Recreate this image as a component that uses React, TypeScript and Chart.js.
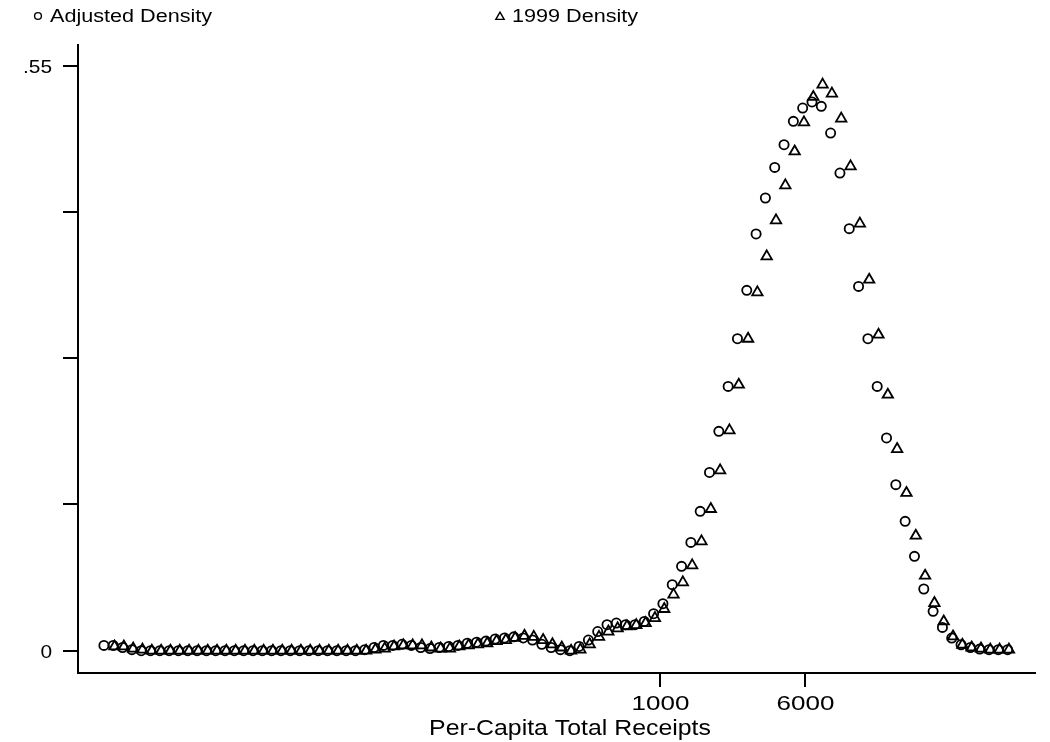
import React, { useEffect, useRef } from "react";
import { Chart, registerables } from "chart.js";

Chart.register(...registerables);

// log10 of per-capita receipts (deflated) where the adjusted density was evaluated
const adjustedLogX = [
  0.013, 0.063, 0.113, 0.163, 0.213, 0.263, 0.313, 0.363, 0.413, 0.463,
  0.513, 0.563, 0.613, 0.663, 0.713, 0.763, 0.813, 0.863, 0.913, 0.963,
  1.013, 1.063, 1.113, 1.163, 1.213, 1.263, 1.313, 1.363, 1.413, 1.463,
  1.513, 1.563, 1.613, 1.663, 1.713, 1.763, 1.813, 1.863, 1.913, 1.963,
  2.013, 2.063, 2.113, 2.163, 2.213, 2.263, 2.313, 2.363, 2.413, 2.463,
  2.513, 2.563, 2.613, 2.663, 2.713, 2.763, 2.813, 2.863, 2.913, 2.963,
  3.013, 3.063, 3.113, 3.163, 3.213, 3.263, 3.313, 3.363, 3.413, 3.463,
  3.513, 3.563, 3.613, 3.663, 3.713, 3.763, 3.813, 3.863, 3.913, 3.963,
  4.013, 4.063, 4.113, 4.163, 4.213, 4.263, 4.313, 4.363, 4.413, 4.463,
  4.513, 4.563, 4.613, 4.663, 4.713, 4.763, 4.813, 4.863,
];

const adjustedDensity = [
  0.005, 0.005, 0.003, 0.001, 0, 0, 0, 0, 0, 0,
  0, 0, 0, 0, 0, 0, 0, 0, 0, 0,
  0, 0, 0, 0, 0, 0, 0, 0, 0.001, 0.003,
  0.005, 0.005, 0.006, 0.005, 0.003, 0.002, 0.003, 0.004, 0.005, 0.007,
  0.008, 0.009, 0.011, 0.012, 0.013, 0.012, 0.01, 0.006, 0.003, 0.001,
  0.0, 0.004, 0.01, 0.018, 0.0245, 0.026, 0.0245, 0.0245, 0.0275, 0.0348,
  0.0442, 0.0621, 0.0793, 0.1018, 0.131, 0.1676, 0.2062, 0.2485, 0.2933, 0.3388,
  0.3918, 0.4256, 0.4544, 0.4757, 0.4977, 0.5102, 0.5159, 0.5118, 0.4867, 0.4491,
  0.3968, 0.3425, 0.2933, 0.2485, 0.2, 0.1561, 0.1216, 0.0887, 0.058, 0.037,
  0.0219, 0.0119, 0.0056, 0.003, 0.0015, 0.001, 0.001, 0.001,
];

// log10 of per-capita receipts (1999 dollars) where the 1999 density was evaluated
const logX1999 = [
  0.07, 0.12, 0.17, 0.22, 0.27, 0.32, 0.37, 0.42, 0.47, 0.52,
  0.57, 0.62, 0.67, 0.72, 0.77, 0.82, 0.87, 0.92, 0.97, 1.02,
  1.07, 1.12, 1.17, 1.22, 1.27, 1.32, 1.37, 1.42, 1.47, 1.52,
  1.57, 1.62, 1.67, 1.72, 1.77, 1.82, 1.87, 1.92, 1.97, 2.02,
  2.07, 2.12, 2.17, 2.22, 2.27, 2.32, 2.37, 2.42, 2.47, 2.52,
  2.57, 2.62, 2.67, 2.72, 2.77, 2.82, 2.87, 2.92, 2.97, 3.02,
  3.07, 3.12, 3.17, 3.22, 3.27, 3.32, 3.37, 3.42, 3.47, 3.52,
  3.57, 3.62, 3.67, 3.72, 3.77, 3.82, 3.87, 3.92, 3.97, 4.02,
  4.07, 4.12, 4.17, 4.22, 4.27, 4.32, 4.37, 4.42, 4.47, 4.52,
  4.57, 4.62, 4.67, 4.72, 4.77, 4.82, 4.87,
];

const density1999 = [
  0.004, 0.004, 0.002, 0.001, 0, 0, 0, 0, 0, 0,
  0, 0, 0, 0, 0, 0, 0, 0, 0, 0,
  0, 0, 0, 0, 0, 0, 0, 0, 0.001, 0.002,
  0.004, 0.005, 0.005, 0.005, 0.003, 0.002, 0.002, 0.004, 0.005, 0.006,
  0.007, 0.009, 0.01, 0.012, 0.014, 0.013, 0.01, 0.006, 0.003, 0.0,
  0.001, 0.006, 0.013, 0.018, 0.021, 0.023, 0.024, 0.026, 0.0307, 0.0392,
  0.0527, 0.0642, 0.0802, 0.1028, 0.1332, 0.1695, 0.2071, 0.2501, 0.2933, 0.3369,
  0.3707, 0.4046, 0.4375, 0.4694, 0.4967, 0.5206, 0.5322, 0.5237, 0.5002, 0.4553,
  0.4015, 0.3488, 0.2971, 0.2407, 0.1896, 0.1483, 0.1081, 0.0705, 0.0448, 0.0275,
  0.0134, 0.0056, 0.003, 0.002, 0.001, 0.001, 0.001,
];

const xTickValues = [1000, 6000];
const xTickLabels = ["1000", "6000"];
const yTickValues = [0, 0.1375, 0.275, 0.4125, 0.55];
const yTickLabels = ["0", "", "", "", ".55"];
const seriesLabels = ["Adjusted Density", "1999 Density"];
const xTitle = "Per-Capita Total Receipts";

const FONT = '"Liberation Sans", Arial, Helvetica, sans-serif';

// Draw text with a horizontal stretch (the labels are set wide)
function wideText(
  ctx: CanvasRenderingContext2D,
  text: string,
  x: number,
  baseline: number,
  size: number,
  align: "left" | "center" | "right",
  stretch: number
) {
  ctx.save();
  ctx.font = `${size}px ${FONT}`;
  ctx.fillStyle = "#000";
  ctx.textAlign = "left";
  ctx.textBaseline = "alphabetic";
  const w = ctx.measureText(text).width * stretch;
  const left = align === "center" ? x - w / 2 : align === "right" ? x - w : x;
  ctx.translate(left, baseline);
  ctx.scale(stretch, 1);
  ctx.fillText(text, 0, 0);
  ctx.restore();
}

const framePlugin = {
  id: "frame",
  beforeDraw(chart: any) {
    const { ctx } = chart;
    ctx.save();
    ctx.fillStyle = "#fff";
    ctx.fillRect(0, 0, chart.width, chart.height);
    ctx.restore();
  },
  afterDraw(chart: any) {
    const { ctx, chartArea } = chart;
    const xs = chart.scales.x;
    const ys = chart.scales.y;
    const { left, right, top, bottom } = chartArea;

    ctx.save();
    ctx.strokeStyle = "#000";
    ctx.lineWidth = 2;
    ctx.lineCap = "butt";
    ctx.beginPath();
    // axes
    ctx.moveTo(left, top);
    ctx.lineTo(left, bottom + 1);
    ctx.moveTo(left - 1, bottom);
    ctx.lineTo(right, bottom);
    // y ticks
    yTickValues.forEach((v) => {
      const py = Math.round(ys.getPixelForValue(v));
      ctx.moveTo(left - 15, py);
      ctx.lineTo(left, py);
    });
    // x ticks
    xTickValues.forEach((v) => {
      const px = Math.round(xs.getPixelForValue(Math.log10(v)));
      ctx.moveTo(px, bottom);
      ctx.lineTo(px, bottom + 14);
    });
    ctx.stroke();
    ctx.restore();

    yTickValues.forEach((v, i) => {
      if (!yTickLabels[i]) return;
      const py = ys.getPixelForValue(v);
      wideText(ctx, yTickLabels[i], left - 26, py + 7, 19, "right", 1.1);
    });
    xTickValues.forEach((v, i) => {
      const px = xs.getPixelForValue(Math.log10(v));
      wideText(ctx, xTickLabels[i], px, 710, 20, "center", 1.3);
    });
    wideText(ctx, xTitle, 570, 735, 22, "center", 1.13);

    // key
    ctx.save();
    ctx.strokeStyle = "#000";
    ctx.lineWidth = 1.4;
    ctx.beginPath();
    ctx.arc(38, 16, 3.4, 0, Math.PI * 2);
    ctx.stroke();
    const r = 4.8;
    const cx = 500;
    const cy = 17;
    ctx.beginPath();
    ctx.moveTo(cx, cy - r);
    ctx.lineTo(cx + r * Math.sin((2 * Math.PI) / 3), cy - r * Math.cos((2 * Math.PI) / 3));
    ctx.lineTo(cx + r * Math.sin((4 * Math.PI) / 3), cy - r * Math.cos((4 * Math.PI) / 3));
    ctx.closePath();
    ctx.stroke();
    ctx.restore();
    wideText(ctx, seriesLabels[0], 50, 22, 18, "left", 1.2);
    wideText(ctx, seriesLabels[1], 512, 22, 18, "left", 1.2);
  },
};

export default function App() {
  const canvasRef = useRef<HTMLCanvasElement | null>(null);

  useEffect(() => {
    const canvas = canvasRef.current;
    if (!canvas) return;
    const chart = new Chart(canvas, {
      type: "scatter",
      data: {
        datasets: [
          {
            label: seriesLabels[0],
            data: adjustedLogX.map((x, i) => ({ x, y: adjustedDensity[i] })),
            pointStyle: "circle",
            pointRadius: 4.6,
            pointBorderWidth: 1.8,
            pointBorderColor: "#000",
            pointBackgroundColor: "rgba(0,0,0,0)",
          },
          {
            label: seriesLabels[1],
            data: logX1999.map((x, i) => ({ x, y: density1999[i] })),
            pointStyle: "triangle",
            pointRadius: 6,
            pointBorderWidth: 1.8,
            pointBorderColor: "#000",
            pointBackgroundColor: "rgba(0,0,0,0)",
          },
        ],
      },
      options: {
        animation: false,
        responsive: false,
        events: [],
        layout: { padding: { left: 78, top: 44, right: 14, bottom: 69 } },
        plugins: {
          legend: { display: false },
          tooltip: { enabled: false },
        },
        scales: {
          x: {
            type: "linear",
            display: false,
            min: -0.1261,
            max: 5.0152,
          },
          y: {
            type: "linear",
            display: false,
            min: -0.02097,
            max: 0.5704,
          },
        },
      },
      plugins: [framePlugin],
    });
    return () => chart.destroy();
  }, []);

  return (
    <div
      style={{
        position: "absolute",
        left: 0,
        top: 0,
        width: 1050,
        height: 742,
        background: "#fff",
      }}
    >
      <canvas ref={canvasRef} width={1050} height={742} />
    </div>
  );
}
